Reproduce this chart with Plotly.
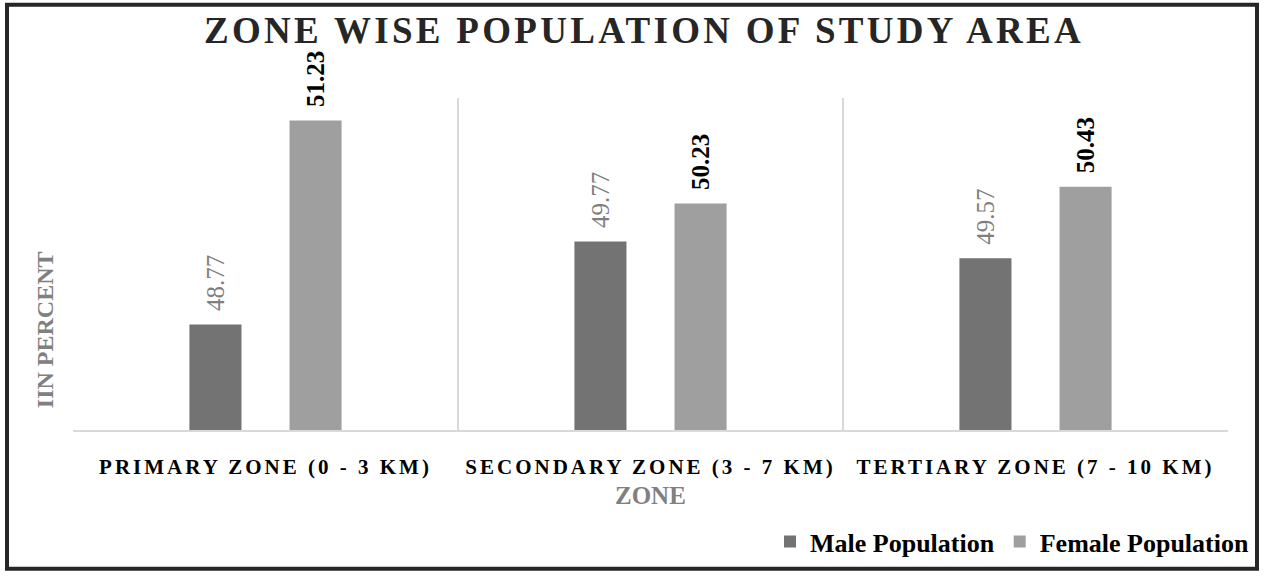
import plotly.graph_objects as go

# Data
zones = ["PRIMARY ZONE (0 - 3 KM)", "SECONDARY ZONE (3 - 7 KM)", "TERTIARY ZONE (7 - 10 KM)"]
male = [48.77, 49.77, 49.57]
female = [51.23, 50.23, 50.43]

SERIF = "Liberation Serif, Times New Roman, serif"
W, H = 1268, 577
ML, MR, MT, MB = 73, 40, 98, 143
PW, PH = W - ML - MR, H - MT - MB

fig = go.Figure()
fig.add_trace(go.Bar(x=zones, y=male, name="Male Population",
                     marker=dict(color="#737373", line=dict(width=0))))
fig.add_trace(go.Bar(x=zones, y=female, name="Female Population",
                     marker=dict(color="#9f9f9f", line=dict(width=0))))

annotations = []
# value labels above the bars (rotated)
for i, v in enumerate(male):
    annotations.append(dict(x=zones[i], y=v, xref="x", yref="y", xshift=-50, yshift=11,
                            text=f"{v:.2f}", textangle=-90, showarrow=False,
                            xanchor="center", yanchor="bottom",
                            font=dict(family=SERIF, size=25, color="#7f7f7f")))
for i, v in enumerate(female):
    annotations.append(dict(x=zones[i], y=v, xref="x", yref="y", xshift=50, yshift=11,
                            text=f"{v:.2f}", textangle=-90, showarrow=False,
                            xanchor="center", yanchor="bottom",
                            font=dict(family=SERIF, size=25, color="#000000", weight="bold")))

# axis titles
annotations.append(dict(text="ZONE", xref="paper", yref="paper", x=0.5,
                        y=(MT + PH - 500) / PH, xanchor="center", yanchor="middle",
                        showarrow=False,
                        font=dict(family=SERIF, size=25, color="#808080", weight="bold")))
annotations.append(dict(text="IIN PERCENT", xref="paper", yref="paper",
                        x=(45 - ML) / PW, y=(MT + PH - 333) / PH, textangle=-90,
                        xanchor="center", yanchor="middle", showarrow=False,
                        font=dict(family=SERIF, size=24, color="#808080", weight="bold")))

fig.update_layout(
    width=W, height=H,
    margin=dict(l=ML, r=MR, t=MT, b=MB),
    paper_bgcolor="white", plot_bgcolor="white",
    barmode="group", bargap=0.48, bargroupgap=0.48,
    title=dict(text="ZONE WISE POPULATION OF STUDY AREA", xref="container", yref="container",
               x=644 / W, y=1 - 30 / H, xanchor="center", yanchor="middle",
               font=dict(family=SERIF, size=37, color="#262626", weight="bold")),
    xaxis=dict(tickson="boundaries", showgrid=True, gridcolor="#d9d9d9", gridwidth=1.5,
               showline=True, linecolor="#d9d9d9", linewidth=1.5, ticks="",
               ticklabelstandoff=17,
               tickfont=dict(family=SERIF, size=21, color="#000000", weight="bold")),
    yaxis=dict(range=[47.5, 51.5], visible=False, showgrid=False),
    legend=dict(orientation="h", xref="paper", yref="paper",
                x=(1254 - ML) / PW, y=(MT + PH - 547) / PH, xanchor="right", yanchor="middle",
                font=dict(family=SERIF, size=26, color="#000000", weight="bold"),
                itemwidth=30, traceorder="normal", bgcolor="rgba(0,0,0,0)"),
    annotations=annotations,
    shapes=[dict(type="rect", xref="paper", yref="paper", layer="above",
                 x0=(7 - ML) / PW, x1=(1257 - ML) / PW,
                 y0=(MT + PH - 574.5) / PH, y1=(MT + PH - 3.5) / PH,
                 line=dict(color="#262626", width=4), fillcolor="rgba(0,0,0,0)")],
    showlegend=True,
)

spacing_js = """
var gd = document.getElementById('{plot_id}');
function spaceText() {
  gd.querySelectorAll('.gtitle').forEach(function (e) { e.style.letterSpacing = '3.3px'; });
  gd.querySelectorAll('.xtick text').forEach(function (e) { e.style.letterSpacing = '3px'; });
}
spaceText();
gd.on('plotly_afterplot', spaceText);
"""

fig.write_html("out.html", post_script=spacing_js)
